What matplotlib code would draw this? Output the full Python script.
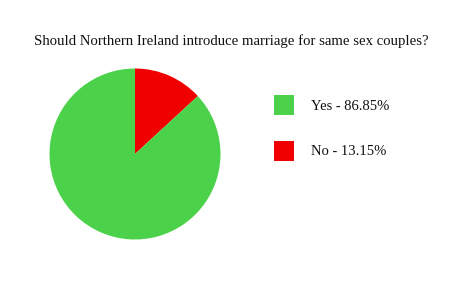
import matplotlib
matplotlib.use("Agg")
import matplotlib.pyplot as plt
from matplotlib.patches import Patch

title = "Should Northern Ireland introduce marriage for same sex couples?"
labels = ["Yes", "No"]
values = [86.85, 13.15]
colors = ["#4CD24A", "#F00000"]

plt.rcParams['font.family'] = ['Liberation Serif', 'DejaVu Serif']

fig = plt.figure(figsize=(4.6, 2.82), dpi=100)
fig.patch.set_facecolor("white")

fig.text(231/460, 1-41.5/282, title, ha="center", va="center", fontsize=10.6, color="#111111")

ax = fig.add_axes([0.1076, 0.1507, 0.3717, 0.6064])
# draw No first starting at 12 o'clock, going clockwise
order = [1, 0]
wedges, _ = ax.pie([values[i] for i in order], colors=[colors[i] for i in order],
                   startangle=90, counterclock=False, radius=1,
                   wedgeprops=dict(linewidth=0))
ax.set_xlim(-1, 1)
ax.set_ylim(-1, 1)
ax.set_aspect("equal")
ax.axis("off")

leg_labels = [f"{l} - {v:.2f}%" for l, v in zip(labels, values)]
handles = [Patch(facecolor=c, edgecolor="none") for c in colors]
fs = 10.5
fig.legend(handles, leg_labels, loc="upper left", bbox_to_anchor=(274/460, 1-95/282),
           frameon=False, fontsize=fs, borderpad=0, borderaxespad=0,
           handlelength=14.4/fs, handleheight=1.733, handletextpad=12.2/fs,
           labelspacing=1.75, labelcolor="#111111")

fig.savefig("out.png", dpi=100, facecolor="white")
